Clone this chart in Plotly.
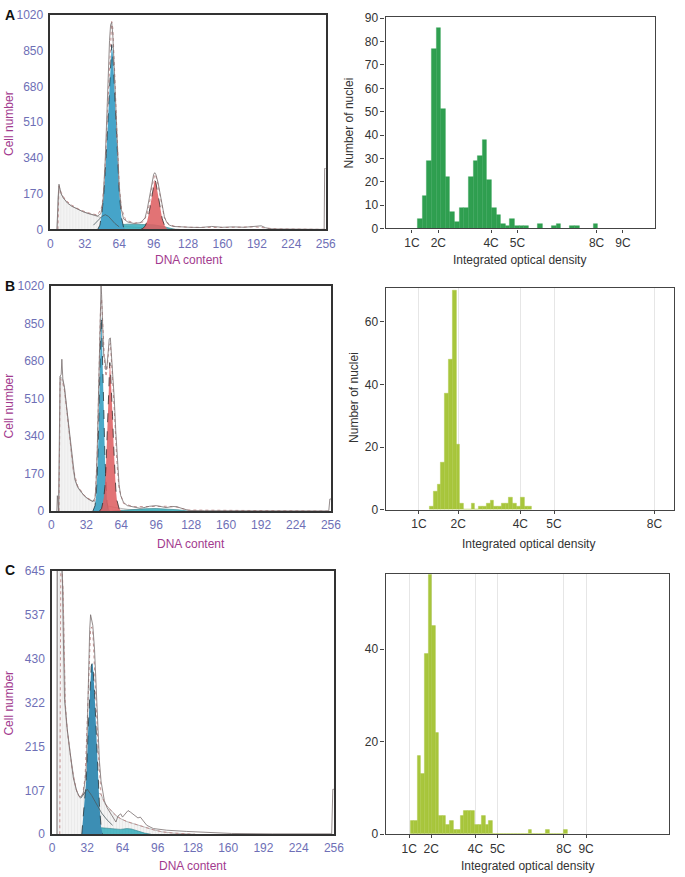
import plotly.graph_objects as go

# ---------------- DATA ----------------
# Panel A, flow cytometry (DNA content channel vs cell number)
A_raw_x = [6, 7, 8, 9, 10, 12, 16, 20, 26, 30, 35, 40, 44, 47, 49, 51, 53, 55, 56, 57, 58, 60, 62, 64, 66, 68, 72, 78, 84, 88, 90, 92, 94, 96, 97, 98, 100, 102, 104, 106, 108, 110, 114, 120, 130, 140, 150, 160, 170, 180, 190, 196, 200, 204, 210, 230, 250, 254.5, 255, 256]
A_raw_y = [0, 120, 215, 190, 170, 150, 125, 110, 93, 85, 76, 68, 64, 75, 140, 330, 640, 900, 975, 985, 930, 700, 430, 200, 95, 50, 35, 28, 32, 55, 95, 150, 215, 262, 270, 262, 225, 170, 110, 60, 35, 22, 14, 12, 10, 9, 14, 10, 12, 10, 14, 17, 8, 3, 2, 1, 0, 0, 290, 290]
A_fit_x = [7, 8, 10, 14, 20, 28, 36, 44, 48, 50, 52, 54, 55, 56, 57, 58, 59, 60, 62, 64, 66, 70, 78, 86, 90, 92, 94, 96, 97, 98, 100, 102, 104, 106, 110, 116, 130, 160, 190, 200, 210, 256]
A_fit_y = [0, 205, 175, 140, 115, 92, 78, 68, 110, 220, 420, 680, 820, 930, 990, 960, 860, 720, 440, 210, 100, 45, 30, 35, 70, 120, 190, 250, 262, 255, 215, 160, 100, 55, 25, 14, 10, 9, 12, 6, 2, 0]
A_deb_x = [6.5, 7, 8, 10, 12, 16, 20, 26, 30, 35, 40, 44, 48, 52, 56, 60, 64, 72, 80, 90, 100, 110, 120]
A_deb_y = [0, 150, 208, 170, 150, 125, 110, 93, 85, 76, 68, 62, 55, 45, 36, 27, 20, 13, 9, 6, 4, 2, 0]
A_agg_x = [40, 44, 48, 51, 54, 57, 60, 64]
A_agg_y = [20, 40, 62, 70, 62, 45, 28, 12]
A_s_x = [46, 52, 58, 64, 72, 80, 88, 96, 104, 110, 116]
A_s_y = [0, 8, 16, 22, 25, 25, 24, 22, 15, 6, 0]
A_g1_x = [44, 46, 48, 50, 52, 54, 56, 57, 58, 60, 62, 64, 66, 68, 70]
A_g1_y = [0, 20, 80, 190, 360, 580, 800, 880, 840, 640, 400, 180, 60, 10, 0]
A_g2_x = [84, 86, 88, 90, 92, 94, 96, 97, 98, 100, 102, 104, 106, 108, 110]
A_g2_y = [0, 5, 15, 40, 85, 150, 220, 236, 225, 170, 105, 50, 20, 6, 0]

# Panel B
B_raw_x = [5, 5.5, 6.5, 7, 7.5, 8, 9, 9.6, 10.5, 12, 14, 15.6, 17, 18.6, 20, 21.6, 24, 27.5, 30, 33.5, 38, 40, 41, 42, 43, 44, 45, 45.5, 46, 47, 48, 49, 50, 51, 52, 53, 54, 55, 56, 57.5, 59, 60.5, 62, 63.5, 66, 69.5, 75, 81, 86, 90, 96, 100, 105, 111, 115, 119, 126, 140, 200, 254, 255, 256]
B_raw_y = [0, 70, 0, 300, 590, 610, 620, 688, 600, 560, 470, 398, 320, 249, 190, 144, 110, 85, 70, 55, 43, 60, 130, 280, 500, 760, 960, 1020, 980, 800, 700, 690, 640, 660, 740, 780, 785, 720, 620, 517, 360, 219, 120, 70, 40, 25, 18, 13, 17, 22, 25, 20, 16, 21, 20, 13, 3, 2, 1, 1, 55, 55]
B_fit_x = [7, 8, 10, 12, 14, 16, 18, 20, 24, 30, 36, 40, 42, 43, 44, 45, 46, 47, 48, 49, 50, 51, 52, 53, 54, 55, 56, 58, 60, 62, 66, 75, 90, 105, 115, 125, 256]
B_fit_y = [0, 600, 590, 545, 460, 370, 270, 190, 115, 72, 50, 48, 260, 480, 740, 920, 960, 860, 720, 650, 610, 640, 700, 750, 760, 700, 600, 420, 220, 100, 35, 20, 22, 22, 18, 5, 0]
B_deb_x = [7, 7.5, 8, 10, 12, 14, 16, 18, 20, 22, 25, 28, 32, 36, 40, 44, 50, 60, 70, 90, 110]
B_deb_y = [0, 590, 610, 600, 560, 470, 380, 270, 185, 135, 100, 80, 62, 50, 42, 35, 25, 15, 8, 3, 0]
B_s_x = [56, 66, 76, 86, 96, 106, 116, 126]
B_s_y = [0, 4, 8, 11, 12, 10, 6, 0]
B_g1_x = [38, 40, 41, 42, 43, 44, 45, 45.5, 46, 47, 48, 49, 50, 51, 52, 54]
B_g1_y = [0, 25, 70, 160, 320, 560, 800, 880, 860, 700, 460, 250, 110, 40, 12, 0]
B_g2_x = [44, 46, 48, 49, 50, 51, 52, 53, 53.5, 54, 55, 56, 57, 58, 59, 60, 62, 64]
B_g2_y = [0, 12, 60, 110, 200, 340, 520, 660, 673, 650, 560, 430, 300, 180, 100, 50, 12, 0]

# Panel C
C_raw_x = [4.5, 4.6, 6.5, 7, 8, 9, 10, 11.3, 13.4, 16.3, 19.3, 22.3, 25.2, 28.2, 30, 31.2, 32.3, 33.3, 34.2, 35, 36, 37, 38.6, 40, 41.6, 43, 44.5, 47.5, 50, 53.5, 56, 58, 60, 62.4, 64, 66.8, 69, 71.3, 73, 75.7, 78, 80.2, 83, 86, 92, 104, 122, 145.5, 163, 200, 254, 255, 256]
C_raw_y = [0, 700, 700, 700, 700, 700, 520, 330, 266, 202, 138, 106, 90, 98, 130, 170, 300, 411, 500, 537, 525, 511, 451, 350, 250, 180, 130, 82, 65, 50, 38, 30, 45, 50, 42, 50, 58, 54, 50, 46, 40, 42, 32, 22, 14, 10, 7, 5, 2, 1, 1, 110, 110]
C_fit_x = [7, 8, 10, 12, 14, 16, 18, 20, 22, 24, 26, 28, 30, 32, 34, 35, 36, 37, 38, 40, 42, 44.5, 48, 53.5, 58, 62.4, 68, 74, 83, 92, 100, 110, 130]
C_fit_y = [0, 700, 600, 320, 250, 205, 165, 135, 110, 95, 90, 100, 140, 280, 440, 500, 507, 495, 440, 320, 200, 98, 75, 58, 46, 38, 31, 26, 18, 11, 6, 3, 0]
C_deb_x = [4.5, 5, 7, 10, 12, 14, 16, 18, 20, 22, 24, 26, 28, 30, 32, 36, 40, 44.5, 48, 53.5, 58, 62.4, 68, 74, 83, 92, 100, 110, 130]
C_deb_y = [0, 700, 700, 600, 320, 250, 205, 165, 135, 110, 95, 90, 95, 104, 110, 108, 103, 98, 75, 58, 46, 38, 31, 26, 18, 11, 6, 3, 0]
C_agg_x = [26, 29, 32, 36, 40, 45, 50, 55]
C_agg_y = [88, 100, 110, 95, 75, 52, 35, 22]
C_s_x = [28, 35, 40, 45, 50, 56, 62, 68, 72, 78, 84, 90]
C_s_y = [0, 8, 14, 16, 15, 12, 12, 14, 13, 8, 3, 0]
C_g1_x = [27, 28, 29.7, 31.2, 32.7, 34.2, 35.6, 36.3, 37, 38.6, 40, 41.6, 43, 44.5, 46]
C_g1_y = [0, 30, 90, 138, 250, 347, 411, 418, 415, 347, 250, 154, 74, 18, 0]

flow_xticks = [0, 32, 64, 96, 128, 160, 192, 224, 256]
AB_yticks = [0, 170, 340, 510, 680, 850, 1020]
C_yticks = [0, 107, 215, 322, 430, 537, 645]

# Image cytometry histograms (integrated optical density, in C units)
A_hist_start = 1.22
A_hist_width = 0.175
A_counts = [4, 14, 29, 77, 86, 51, 22, 7, 3, 9, 9, 22, 29, 31, 38, 21, 9, 6, 2, 1,
            4, 1, 1, 1, 0, 0, 2, 0, 0, 1, 2, 0, 0, 1, 1, 0, 0, 0, 2]
A_tickvals = [1, 2, 4, 5, 8, 9]
A_ticktext = ["1C", "2C", "4C", "5C", "8C", "9C"]

B_hist_start = 1.084
B_hist_width = 0.1216
B_counts = [1, 6, 8, 15, 37, 48, 70, 21, 2, 0, 0, 2, 0, 1, 1, 2, 3, 1, 1, 2, 2, 4, 2, 1, 4, 1, 1]
B_tickvals = [0.737, 2, 4, 5.084, 8.315]
B_ticktext = ["1C", "2C", "4C", "5C", "8C"]

C_hist_start = 1.052
C_hist_width = 0.1616
C_counts = [3, 3, 17, 13, 39, 56, 45, 22, 4, 4, 2, 3, 1, 1, 4, 5, 5, 5, 2, 2, 4, 2, 3,
            0, 0, 0, 0, 0, 0, 0, 0, 0, 0, 1, 0, 0, 0, 0, 1, 0, 0, 0, 0, 1]
C_tickvals = [1, 2, 4, 5, 8, 9]
C_ticktext = ["1C", "2C", "4C", "5C", "8C", "9C"]

# ---------------- FIGURE ----------------
W, H = 685, 877
FONT = "Liberation Sans, Arial, Helvetica, sans-serif"
TICK_BLUE = "#6e6fb6"
TITLE_MAG = "#a23a8e"
HATCH = dict(shape="|", fgcolor="#d2d2d2", bgcolor="#f3f3f3", size=3, solidity=0.2)

def dxm(a, b):
    return [a / W, b / W]

def dym(top, bottom):
    return [1 - bottom / H, 1 - top / H]

fig = go.Figure()

def flow_panel(n, deb, s, g1, g2, agg, fit, raw, blue):
    xa, ya = f"x{n}", f"y{n}"
    fig.add_trace(go.Scatter(x=deb[0], y=deb[1], xaxis=xa, yaxis=ya, mode="lines",
                             fill="tozeroy", fillpattern=HATCH, fillcolor="#f3f3f3",
                             line=dict(color="#a0a0a0", width=0.7)))
    fig.add_trace(go.Scatter(x=s[0], y=s[1], xaxis=xa, yaxis=ya, mode="lines",
                             fill="tozeroy", fillcolor="rgba(52,172,186,0.85)",
                             line=dict(color="#2f7f8a", width=0.6)))
    fig.add_trace(go.Scatter(x=g1[0], y=g1[1], xaxis=xa, yaxis=ya, mode="lines",
                             fill="tozeroy", fillcolor=blue,
                             line=dict(color="#25343a", width=0.8, dash="dash")))
    if g2 is not None:
        fig.add_trace(go.Scatter(x=g2[0], y=g2[1], xaxis=xa, yaxis=ya, mode="lines",
                                 fill="tozeroy", fillcolor="rgba(222,96,98,0.88)",
                                 line=dict(color="#3a2a2a", width=0.8, dash="dash")))
    if agg is not None:
        fig.add_trace(go.Scatter(x=agg[0], y=agg[1], xaxis=xa, yaxis=ya, mode="lines",
                                 line=dict(color="#4b5a60", width=0.8)))
    fig.add_trace(go.Scatter(x=fit[0], y=fit[1], xaxis=xa, yaxis=ya, mode="lines",
                             line=dict(color="#c08888", width=0.9, dash="dot")))
    fig.add_trace(go.Scatter(x=raw[0], y=raw[1], xaxis=xa, yaxis=ya, mode="lines",
                             line=dict(color="#776d6d", width=0.8)))

flow_panel(1, (A_deb_x, A_deb_y), (A_s_x, A_s_y), (A_g1_x, A_g1_y), (A_g2_x, A_g2_y),
           (A_agg_x, A_agg_y), (A_fit_x, A_fit_y), (A_raw_x, A_raw_y), "#46a4c9")
flow_panel(3, (B_deb_x, B_deb_y), (B_s_x, B_s_y), (B_g1_x, B_g1_y), (B_g2_x, B_g2_y),
           None, (B_fit_x, B_fit_y), (B_raw_x, B_raw_y), "#4ba8c7")
flow_panel(5, (C_deb_x, C_deb_y), (C_s_x, C_s_y), (C_g1_x, C_g1_y), None,
           (C_agg_x, C_agg_y), (C_fit_x, C_fit_y), (C_raw_x, C_raw_y), "#3c8eb4")

def hist_panel(n, start, width, counts, color):
    edges = [start + width * i for i in range(len(counts))]
    fig.add_trace(go.Bar(x=edges, y=counts, width=width, offset=0,
                         xaxis=f"x{n}", yaxis=f"y{n}",
                         marker=dict(color=color, line=dict(color=color, width=0.4))))

hist_panel(2, A_hist_start, A_hist_width, A_counts, "#2f9f50")
hist_panel(4, B_hist_start, B_hist_width, B_counts, "#a8c63c")
hist_panel(6, C_hist_start, C_hist_width, C_counts, "#a8c63c")

layout = dict(width=W, height=H, margin=dict(l=0, r=0, t=0, b=0, pad=0), autosize=False,
              paper_bgcolor="white", plot_bgcolor="white", showlegend=False,
              font=dict(family=FONT, size=12, color="#333"), bargap=0)

flow_common_x = dict(range=[0, 256], tickvals=flow_xticks, showline=True, mirror=True,
                     linecolor="#333", linewidth=1.5, ticks="outside", ticklen=2,
                     tickcolor="rgba(0,0,0,0)", showgrid=False, zeroline=False,
                     tickfont=dict(color=TICK_BLUE, size=12, family=FONT))
flow_common_y = dict(showline=True, mirror=True, linecolor="#333", linewidth=1.5,
                     ticks="outside", ticklen=3, tickcolor="rgba(0,0,0,0)",
                     showgrid=False, zeroline=False,
                     tickfont=dict(color=TICK_BLUE, size=12, family=FONT))
hist_common_x = dict(showline=True, mirror=True, linecolor="#444", linewidth=1.2,
                     ticks="outside", ticklen=3, tickcolor="#444", zeroline=False,
                     tickfont=dict(color="#333", size=12, family=FONT))
hist_common_y = dict(showline=True, mirror=True, linecolor="#444", linewidth=1.2,
                     ticks="outside", ticklen=4, tickcolor="#444", zeroline=False,
                     showgrid=False, tickfont=dict(color="#333", size=12, family=FONT))

# Panel A
layout["xaxis1"] = dict(flow_common_x, domain=dxm(48.3, 329), anchor="y1")
layout["yaxis1"] = dict(flow_common_y, domain=dym(8.3, 226), anchor="x1",
                        range=[0, 1020], tickvals=AB_yticks)
layout["xaxis2"] = dict(hist_common_x, domain=dxm(390, 665), anchor="y2", range=[0, 10.23],
                        tickvals=A_tickvals, ticktext=A_ticktext, showgrid=False)
layout["yaxis2"] = dict(hist_common_y, domain=dym(10, 225), anchor="x2", range=[0, 90.6],
                        dtick=10)
# Panel B
layout["xaxis3"] = dict(flow_common_x, domain=dxm(49.3, 334.3), anchor="y3")
layout["yaxis3"] = dict(flow_common_y, domain=dym(283.5, 512.3), anchor="x3",
                        range=[0, 1020], tickvals=AB_yticks)
layout["xaxis4"] = dict(hist_common_x, domain=dxm(390, 684), anchor="y4", range=[-0.337, 8.947],
                        tickvals=B_tickvals, ticktext=B_ticktext, showgrid=True,
                        gridcolor="#e6e6e6", gridwidth=1)
layout["yaxis4"] = dict(hist_common_y, domain=dym(286, 511), anchor="x4", range=[0, 70.6],
                        tickvals=[0, 20, 40, 60])
# Panel C
layout["xaxis5"] = dict(flow_common_x, domain=dxm(50, 337.3), anchor="y5")
layout["yaxis5"] = dict(flow_common_y, domain=dym(572.7, 840.7), anchor="x5",
                        range=[0, 645], tickvals=C_yticks)
layout["xaxis6"] = dict(hist_common_x, domain=dxm(390, 679.3), anchor="y6", range=[-0.065, 12.77],
                        tickvals=C_tickvals, ticktext=C_ticktext, showgrid=True,
                        gridcolor="#e6e6e6", gridwidth=1)
layout["yaxis6"] = dict(hist_common_y, domain=dym(576, 840.7), anchor="x6", range=[0, 56.3],
                        tickvals=[0, 20, 40])

fig.update_layout(**layout)

def ann(text, x, y, color, size=12, angle=0, bold=False, yanchor="middle"):
    fig.add_annotation(text=f"<b>{text}</b>" if bold else text, x=x / W, y=1 - y / H,
                       xref="paper", yref="paper", showarrow=False, textangle=angle,
                       xanchor="center", yanchor=yanchor,
                       font=dict(family=FONT, size=size, color=color))

# Panel letters
ann("A", 7, 8, "#111", size=14, bold=True)
ann("B", 7, 284, "#111", size=14, bold=True)
ann("C", 7, 572, "#111", size=14, bold=True)

# Left panel titles
ann("Cell number", 6, 118, TITLE_MAG, angle=-90)
ann("DNA content", 190, 247.5, TITLE_MAG, yanchor="top")
ann("Cell number", 6, 405, TITLE_MAG, angle=-90)
ann("DNA content", 192, 537, TITLE_MAG, yanchor="top")
ann("Cell number", 6, 707, TITLE_MAG, angle=-90)
ann("DNA content", 194, 863.5, TITLE_MAG, yanchor="top")

# Right panel titles
ann("Number of nuclei", 353, 118, "#333", angle=-90)
ann("Integrated optical density", 527, 247.5, "#333", yanchor="top")
ann("Number of nuclei", 357, 397, "#333", angle=-90)
ann("Integrated optical density", 536, 537, "#333", yanchor="top")
ann("Integrated optical density", 535, 863.5, "#333", yanchor="top")

fig.write_html(
    "out.html",
    config={"responsive": False, "displayModeBar": False},
    post_script="document.body.style.margin='0px';document.body.style.padding='0px';"
                "document.body.style.overflow='hidden';",
)
